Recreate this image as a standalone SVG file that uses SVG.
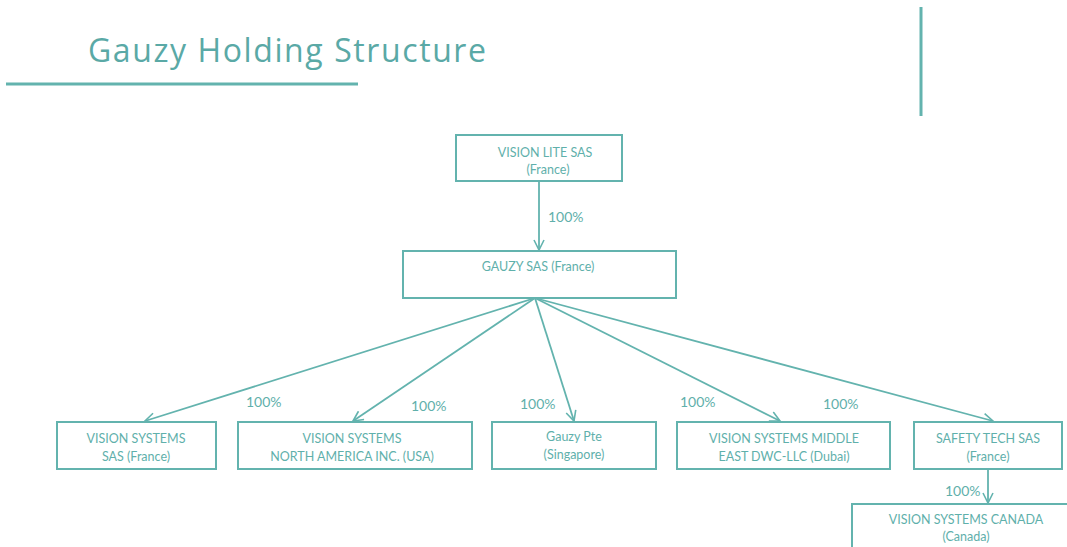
<svg xmlns="http://www.w3.org/2000/svg" width="1067" height="547" viewBox="0 0 1067 547">
  <style>
    .box { fill: #ffffff; stroke: #63b3ae; stroke-width: 2; }
    .lbl { font-family: Lato, "Open Sans", "Liberation Sans", sans-serif; font-size: 12.5px; fill: #5fb0ab; text-anchor: middle; }
    .pct { font-family: Lato, "Open Sans", "Liberation Sans", sans-serif; font-size: 14px; fill: #5fb0ab; }
    .edge { fill: none; stroke: #63b3ae; stroke-width: 1.8; marker-end: url(#arrow); }
    .title { font-family: "Open Sans", "Liberation Sans", sans-serif; font-size: 32px; fill: #5aa9a6; }
  </style>
  <defs>
    <marker id="arrow" viewBox="0 0 12 12" refX="11" refY="6" markerWidth="12" markerHeight="12" markerUnits="userSpaceOnUse" orient="auto">
      <path d="M1,1 L11,6 L1,11" fill="none" stroke="#63b3ae" stroke-width="1.6"/>
    </marker>
  </defs>

  <rect width="1067" height="547" fill="#ffffff"/>

  <!-- heading and decorative rules -->
  <g id="header">
    <text class="title" x="88" y="62" textLength="398" lengthAdjust="spacing">Gauzy Holding Structure</text>
    <line x1="6" y1="84" x2="358" y2="84" stroke="#63b3ae" stroke-width="3"/>
    <line x1="921" y1="7" x2="921" y2="116" stroke="#63b3ae" stroke-width="3"/>
  </g>

  <!-- ownership links -->
  <g id="connectors">
    <line class="edge" x1="539" y1="181" x2="539" y2="250"/>
    <line class="edge" x1="535" y1="298" x2="145" y2="421"/>
    <line class="edge" x1="535" y1="298" x2="353" y2="421"/>
    <line class="edge" x1="535" y1="298" x2="574" y2="421"/>
    <line class="edge" x1="535" y1="298" x2="780" y2="421"/>
    <line class="edge" x1="535" y1="298" x2="993" y2="421"/>
    <line class="edge" x1="988" y1="469" x2="988" y2="503"/>
    <text class="pct" x="548" y="222">100%</text>
    <text class="pct" x="246" y="407">100%</text>
    <text class="pct" x="411" y="411">100%</text>
    <text class="pct" x="520" y="409">100%</text>
    <text class="pct" x="680" y="407">100%</text>
    <text class="pct" x="823" y="409">100%</text>
    <text class="pct" x="945" y="496">100%</text>
  </g>

  <g id="vision-lite">
    <rect class="box" x="456" y="135" width="166" height="46"/>
    <text class="lbl" x="545" y="157">VISION LITE SAS</text>
    <text class="lbl" x="548" y="174">(France)</text>
  </g>

  <g id="gauzy-sas">
    <rect class="box" x="403" y="251" width="273" height="47"/>
    <text class="lbl" x="538" y="271">GAUZY SAS (France)</text>
  </g>

  <g id="vs-france">
    <rect class="box" x="57" y="422" width="159" height="47"/>
    <text class="lbl" x="136" y="443">VISION SYSTEMS</text>
    <text class="lbl" x="136" y="461">SAS (France)</text>
  </g>

  <g id="vs-north-america">
    <rect class="box" x="238" y="422" width="234" height="47"/>
    <text class="lbl" x="352" y="443">VISION SYSTEMS</text>
    <text class="lbl" x="352" y="461">NORTH AMERICA INC. (USA)</text>
  </g>

  <g id="gauzy-pte">
    <rect class="box" x="492" y="422" width="164" height="47"/>
    <text class="lbl" x="574" y="441">Gauzy Pte</text>
    <text class="lbl" x="574" y="459">(Singapore)</text>
  </g>

  <g id="vs-middle-east">
    <rect class="box" x="677" y="422" width="213" height="47"/>
    <text class="lbl" x="784" y="443">VISION SYSTEMS MIDDLE</text>
    <text class="lbl" x="784" y="461">EAST DWC-LLC (Dubai)</text>
  </g>

  <g id="safety-tech">
    <rect class="box" x="914" y="422" width="148" height="47"/>
    <text class="lbl" x="988" y="443">SAFETY TECH SAS</text>
    <text class="lbl" x="988" y="461">(France)</text>
  </g>

  <g id="vs-canada">
    <rect class="box" x="852" y="504" width="230" height="60"/>
    <text class="lbl" x="966" y="524">VISION SYSTEMS CANADA</text>
    <text class="lbl" x="966" y="541">(Canada)</text>
  </g>
</svg>
